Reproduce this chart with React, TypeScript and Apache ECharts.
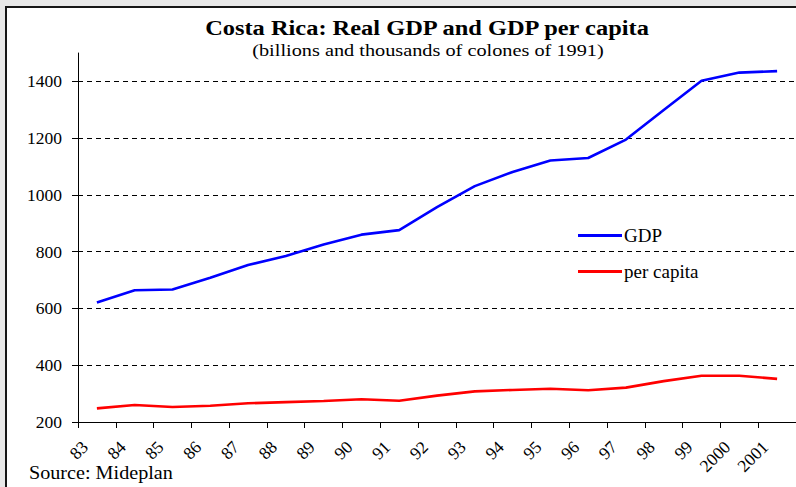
import React, { useEffect, useRef } from "react";
import * as echarts from "echarts";

const years = ["83", "84", "85", "86", "87", "88", "89", "90", "91", "92", "93", "94", "95", "96", "97", "98", "99", "2000", "2001"];
const gdp = [621, 664, 667, 708, 753, 785, 825, 860, 876, 957, 1031, 1081, 1121, 1130, 1195, 1299, 1402, 1431, 1436];
const perCapita = [248, 260, 253, 257, 266, 270, 274, 280, 275, 293, 308, 313, 317, 312, 321, 344, 363, 363, 352];

const SERIF = "'Liberation Serif', 'Times New Roman', serif";

export default function App() {
  const ref = useRef<HTMLDivElement>(null);
  useEffect(() => {
    const chart = echarts.init(ref.current!, null, { renderer: "svg" });
    chart.setOption({
      animation: false,
      backgroundColor: "#e8e8e8",
      graphic: [
        {
          type: "rect",
          z: -10,
          silent: true,
          shape: { x: 6, y: 7, width: 800, height: 490 },
          style: { fill: "#ffffff", stroke: "#161616", lineWidth: 2 },
        },
        {
          type: "text",
          x: 427,
          y: 27,
          scaleX: 1.11,
          style: {
            text: "Costa Rica: Real GDP and GDP per capita",
            font: `bold 22px ${SERIF}`,
            fill: "#000",
            align: "center",
            verticalAlign: "middle",
          },
        },
        {
          type: "text",
          x: 428,
          y: 49.5,
          scaleX: 1.16,
          style: {
            text: "(billions and thousands of colones of 1991)",
            font: `17.5px ${SERIF}`,
            fill: "#000",
            align: "center",
            verticalAlign: "middle",
          },
        },
        {
          type: "text",
          x: 29,
          y: 473,
          scaleX: 1.12,
          style: {
            text: "Source: Mideplan",
            font: `18px ${SERIF}`,
            fill: "#000",
            align: "left",
            verticalAlign: "middle",
          },
        },
      ],
      legend: {
        orient: "vertical",
        left: 573,
        top: 221,
        itemWidth: 44,
        itemHeight: 3,
        itemGap: 17,
        icon: "rect",
        textStyle: { fontFamily: SERIF, fontSize: 19, color: "#000", padding: [0, 0, 0, -3] },
        data: ["GDP", "per capita"],
      },
      grid: { left: 78, top: 53, width: 731, height: 369, containLabel: false },
      xAxis: {
        type: "category",
        data: years,
        boundaryGap: true,
        axisLine: { lineStyle: { color: "#000", width: 1 } },
        axisTick: { show: true, length: 6, lineStyle: { color: "#000" } },
        axisLabel: {
          interval: 0,
          rotate: 45,
          margin: 10,
          padding: [0, 17, 0, 0],
          fontFamily: SERIF,
          fontSize: 17.5,
          color: "#000",
        },
        splitLine: { show: false },
      },
      yAxis: {
        type: "value",
        min: 200,
        max: 1500,
        interval: 200,
        axisLine: { show: true, lineStyle: { color: "#000", width: 1 } },
        axisTick: { show: true, length: 6, lineStyle: { color: "#000", width: 1 } },
        axisLabel: {
          margin: 16,
          fontFamily: SERIF,
          fontSize: 17.5,
          color: "#000",
          showMaxLabel: false,
          formatter: (v: number) => String(v),
        },
        splitLine: {
          show: true,
          showMinLine: false,
          showMaxLine: false,
          lineStyle: { color: "#000", type: [5, 4], width: 1 },
        },
      },
      series: [
        {
          name: "GDP",
          type: "line",
          data: gdp,
          showSymbol: false,
          symbol: "none",
          lineStyle: { color: "#0000ff", width: 2.6 },
          itemStyle: { color: "#0000ff" },
        },
        {
          name: "per capita",
          type: "line",
          data: perCapita,
          showSymbol: false,
          symbol: "none",
          lineStyle: { color: "#ff0000", width: 2.6 },
          itemStyle: { color: "#ff0000" },
        },
      ],
    });
    return () => chart.dispose();
  }, []);
  return (
    <div
      ref={ref}
      style={{ position: "absolute", left: 0, top: 0, width: 796, height: 487 }}
    />
  );
}
